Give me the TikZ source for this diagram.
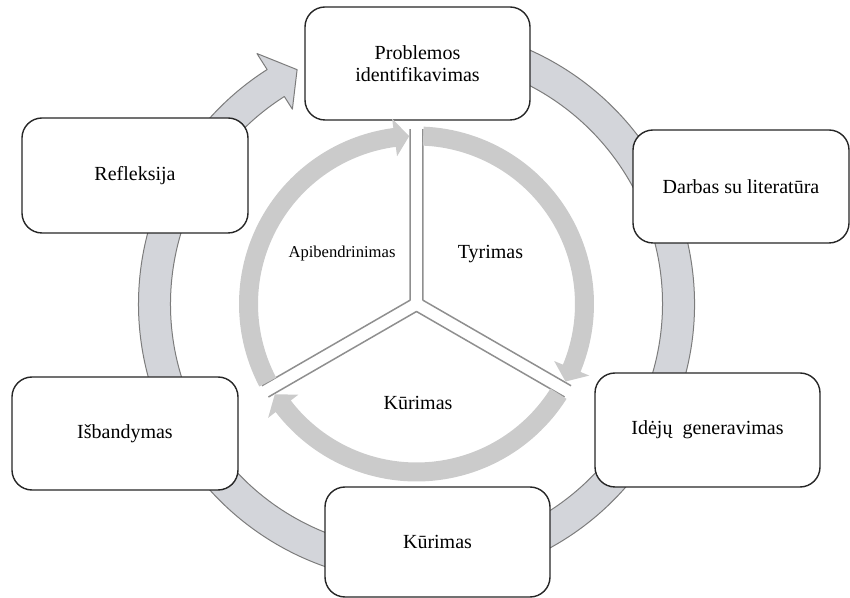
\documentclass[tikz,border=0pt]{standalone}
\usepackage{fontspec}
\setmainfont{Liberation Serif}
\definecolor{ringfill}{HTML}{D3D5DA}
\definecolor{ringline}{HTML}{7C7C7C}
\definecolor{innergray}{HTML}{CBCBCB}
\definecolor{sectorgray}{HTML}{8F8F8F}
\tikzset{
  stagebox/.style={draw=black!85, line width=0.7pt, fill=white, rounded corners=10pt,
    minimum width=112.5pt, minimum height=56.5pt, align=center, inner sep=2pt},
  cyclearrow/.style={draw=ringline, line width=0.5pt, fill=ringfill},
  innerarrow/.style={fill=innergray},
  sectorline/.style={draw=sectorgray, line width=0.75pt},
  innerlabel/.style={font=\fontsize{10}{11}\selectfont}
}
\begin{document}
\begin{tikzpicture}[x=0.5pt, y=0.5pt, line join=round, font=\fontsize{10}{11}\selectfont]
	\useasboundingbox (-416.5,-294) rectangle (433.5,304);
	\draw[cyclearrow]
	(100:278) arc[start angle=100, end angle=-237.5, radius=278]
	-- (-237.5:297) -- (-243:263) -- (-237.5:231) -- (-237.5:246)
	arc[start angle=-237.5, end angle=100, radius=246] -- cycle;
	\node[stagebox] (problem) at (1,240.5) {Problemos\\identifikavimas};
	\node[stagebox, minimum width=108pt] (literature) at (324.5,117.5) {Darbas su literatūra};
	\node[stagebox, minimum height=57pt] (ideas) at (291,-126) {Idėjų~~generavimas};
	\node[stagebox, minimum height=55pt] (build) at (21,-238) {Kūrimas};
	\node[stagebox, minimum width=113pt] (test) at (-291.5,-129.5) {Išbandymas};
	\node[stagebox, minimum width=113pt, minimum height=57.5pt] (reflect) at (-281.5,128.5) {Refleksija};
	\foreach \b in {30,-90,150}{
		\draw[sectorline, shift={(\b:7.5)}] ({\b+60}:171) -- (0,0) -- ({\b-60}:171);
	}
	\foreach \s in {90,-30,-150}{
		\fill[innerarrow]
		({\s-2.3}:177.5) arc[start angle=\s-2.3, end angle=\s-112.5, radius=177.5]
		-- ({\s-112.5}:187) -- ({\s-117.5}:168) -- ({\s-112.5}:149) -- ({\s-112.5}:158.5)
		arc[start angle=\s-112.5, end angle=\s-2.3, radius=158.5] -- cycle;
	}
	\node[font=\fontsize{8.3}{10}\selectfont] (summary) at (-74.5,50) {Apibendrinimas};
	\node[innerlabel] (research) at (74,50) {Tyrimas};
	\node[innerlabel] (making) at (1.5,-99) {Kūrimas};
\end{tikzpicture}
\end{document}
